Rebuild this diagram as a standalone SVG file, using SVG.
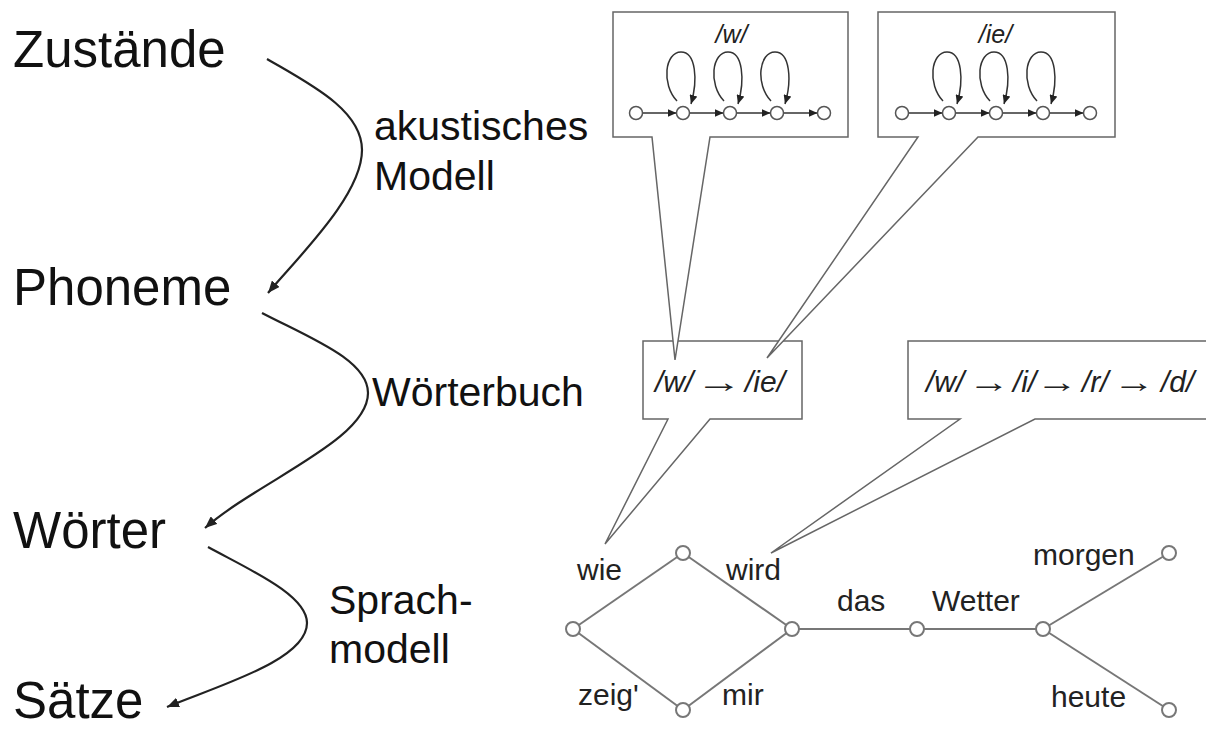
<svg xmlns="http://www.w3.org/2000/svg" width="1206" height="729" viewBox="0 0 1206 729">
<style>
.big{font-family:"Liberation Sans",Arial,sans-serif;font-size:51px;fill:#111}
.mid{font-family:"Liberation Sans",Arial,sans-serif;font-size:41px;fill:#111}
.lab{font-family:"Liberation Sans",Arial,sans-serif;font-size:30px;fill:#222}
.ph{font-family:"Liberation Sans",Arial,sans-serif;font-style:italic;fill:#222}
.arr{font-family:"Liberation Sans",Arial,sans-serif;font-size:30px;fill:#222}
.callout{fill:#fff;stroke:#666;stroke-width:1.5;stroke-linejoin:miter}
.curve{fill:none;stroke:#222;stroke-width:2.2;marker-end:url(#big)}
.hmm{fill:none;stroke:#333;stroke-width:1.5;marker-end:url(#small)}
.edge{stroke:#777;stroke-width:2;fill:none}
.st{fill:#fff;stroke:#555;stroke-width:1.5}
.ln{fill:#fff;stroke:#777;stroke-width:2}
</style>
<defs>
<marker id="big" markerUnits="userSpaceOnUse" markerWidth="13" markerHeight="10" refX="12" refY="5" orient="auto"><path d="M0,0 L12,5 L0,10 z" fill="#222"/></marker>
<marker id="small" markerUnits="userSpaceOnUse" markerWidth="10" markerHeight="8" refX="9" refY="4" orient="auto"><path d="M0,0 L9,4 L0,8 z" fill="#222"/></marker>
</defs>
<rect width="1206" height="729" fill="#fff"/>

<g id="level-zustaende"><text class="big" x="13" y="67">Zustände</text></g>
<g id="level-phoneme"><text class="big" x="13" y="305">Phoneme</text></g>
<g id="level-woerter"><text class="big" x="13" y="548">Wörter</text></g>
<g id="level-saetze"><text class="big" x="13" y="718">Sätze</text></g>

<g id="connectors">
<path class="curve" d="M267,59 C310,84 362,110 362,150 C362,195 300,255 268,293"/>
<path class="curve" d="M262,313 C310,338 368,360 368,393 C368,440 260,480 205,528"/>
<path class="curve" d="M208,547 C250,570 307,595 307,623 C307,660 220,685 167,707"/>
<text class="mid" x="374" y="140">akustisches</text>
<text class="mid" x="374" y="190">Modell</text>
<text class="mid" x="372" y="406">Wörterbuch</text>
<text class="mid" x="329" y="614">Sprach-</text>
<text class="mid" x="329" y="663">modell</text>

<g id="lattice-edges">
<line class="edge" x1="573" y1="629" x2="683" y2="553"/>
<line class="edge" x1="573" y1="629" x2="683" y2="710"/>
<line class="edge" x1="683" y1="553" x2="792" y2="629"/>
<line class="edge" x1="683" y1="710" x2="792" y2="629"/>
<line class="edge" x1="792" y1="629" x2="917" y2="629"/>
<line class="edge" x1="917" y1="629" x2="1043" y2="629"/>
<line class="edge" x1="1043" y1="629" x2="1169" y2="553"/>
<line class="edge" x1="1043" y1="629" x2="1169" y2="710"/>
</g>
<g id="lattice-labels">
<text class="lab" x="577" y="580">wie</text>
<text class="lab" x="726" y="580">wird</text>
<text class="lab" x="578" y="705">zeig'</text>
<text class="lab" x="722" y="705">mir</text>
<text class="lab" x="837" y="611">das</text>
<text class="lab" x="932" y="611">Wetter</text>
<text class="lab" x="1033" y="565">morgen</text>
<text class="lab" x="1051" y="707">heute</text>
</g>
</g>

<g id="lattice-nodes">
<circle id="n-start" class="ln" cx="573" cy="629" r="7"/>
<circle id="n-wie" class="ln" cx="683" cy="553" r="7"/>
<circle id="n-zeig" class="ln" cx="683" cy="710" r="7"/>
<circle id="n-wird" class="ln" cx="792" cy="629" r="7"/>
<circle id="n-das" class="ln" cx="917" cy="629" r="7"/>
<circle id="n-wetter" class="ln" cx="1043" cy="629" r="7"/>
<circle id="n-morgen" class="ln" cx="1169" cy="553" r="7"/>
<circle id="n-heute" class="ln" cx="1169" cy="710" r="7"/>
</g>

<g id="lex-wie">
<path class="callout" d="M643,341 H802 V419 H710 L605,544 L668,419 H643 Z"/>
<text class="ph" x="655" y="392" font-size="30">/w/</text>
<text class="arr" text-anchor="middle" transform="translate(719,392) scale(1.55,1)">→</text>
<text class="ph" x="745" y="392" font-size="30">/ie/</text>
</g>
<g id="lex-wird">
<path class="callout" d="M908,341 H1214 V419 H1035 L771,553 L960,419 H908 Z"/>
<text class="ph" x="926" y="392" font-size="30">/w/</text>
<text class="arr" text-anchor="middle" transform="translate(989,392) scale(1.4,1)">→</text>
<text class="ph" x="1013" y="392" font-size="30">/i/</text>
<text class="arr" text-anchor="middle" transform="translate(1057,392) scale(1.4,1)">→</text>
<text class="ph" x="1082" y="392" font-size="30">/r/</text>
<text class="arr" text-anchor="middle" transform="translate(1134,392) scale(1.4,1)">→</text>
<text class="ph" x="1161" y="392" font-size="30">/d/</text>
</g>

<g id="hmm-w">
<path class="callout" d="M613,12 H848 V137 H710 L675,360 L652,137 H613 Z"/>
<text class="ph" x="731.5" y="43" font-size="25" text-anchor="middle">/w/</text>
<path class="hmm" d="M642.5,113 H676.5"/>
<path class="hmm" d="M689.5,113 H723.5"/>
<path class="hmm" d="M736.5,113 H770.5"/>
<path class="hmm" d="M783.5,113 H817.5"/>
<path class="hmm" d="M677,101 C661,84 665,52 681,52 C696,52 698,80 691,104"/>
<path class="hmm" d="M724,101 C708,84 712,52 728,52 C743,52 745,80 738,104"/>
<path class="hmm" d="M771,101 C755,84 759,52 775,52 C790,52 792,80 785,104"/>
<circle class="st" cx="636" cy="113" r="6.5"/>
<circle class="st" cx="683" cy="113" r="6.5"/>
<circle class="st" cx="730" cy="113" r="6.5"/>
<circle class="st" cx="777" cy="113" r="6.5"/>
<circle class="st" cx="824" cy="113" r="6.5"/>
</g>

<g id="hmm-ie">
<path class="callout" d="M878,12 H1115 V137 H978 L767,358 L918,137 H878 Z"/>
<text class="ph" x="995.5" y="43" font-size="25" text-anchor="middle">/ie/</text>
<path class="hmm" d="M908.5,113 H942.5"/>
<path class="hmm" d="M955.5,113 H989.5"/>
<path class="hmm" d="M1002.5,113 H1036.5"/>
<path class="hmm" d="M1049.5,113 H1083.5"/>
<path class="hmm" d="M943,101 C927,84 931,52 947,52 C962,52 964,80 957,104"/>
<path class="hmm" d="M990,101 C974,84 978,52 994,52 C1009,52 1011,80 1004,104"/>
<path class="hmm" d="M1037,101 C1021,84 1025,52 1041,52 C1056,52 1058,80 1051,104"/>
<circle class="st" cx="902" cy="113" r="6.5"/>
<circle class="st" cx="949" cy="113" r="6.5"/>
<circle class="st" cx="996" cy="113" r="6.5"/>
<circle class="st" cx="1043" cy="113" r="6.5"/>
<circle class="st" cx="1090" cy="113" r="6.5"/>
</g>
</svg>
